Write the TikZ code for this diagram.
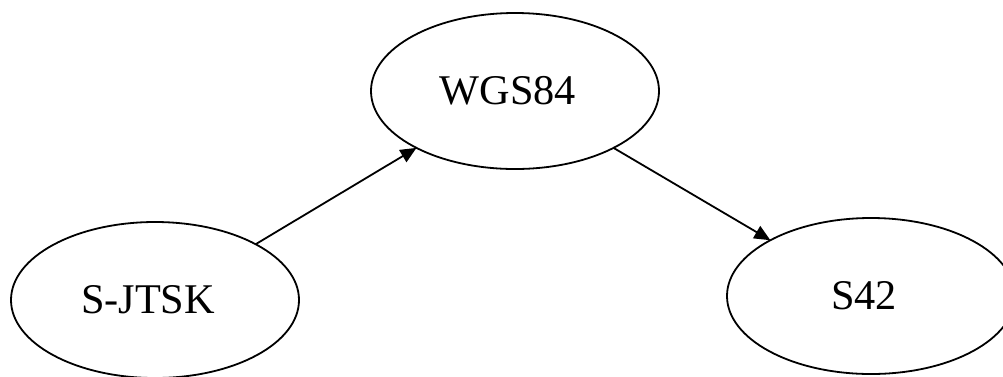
\documentclass[tikz,border=0pt]{standalone}
\usepackage{fontspec}
\setmainfont{Liberation Serif}
\usetikzlibrary{shapes.geometric,arrows.meta}
\begin{document}
\begin{tikzpicture}[x=1pt,y=-1pt,
  crs/.style={ellipse,draw,line width=1.8pt,minimum width=288pt,minimum height=156pt,
    inner sep=0pt,outer sep=0pt,font=\fontsize{42.3pt}{50pt}\selectfont},
  conv/.style={line width=1.8pt,-{Triangle[length=16pt,width=14pt]}}]
  \clip (0,0) rectangle (1003,376);
  \useasboundingbox (0,0) rectangle (1003,376);
  % coordinate reference systems
  \node[crs] (jtsk) at (155,300) {S-JTSK\hspace*{14pt}};
  \node[crs] (wgs) at (515,91) {WGS84\hspace*{14pt}};
  \node[crs] (s42) at (871,296) {S42\hspace*{14pt}};
  % transformations
  \draw[conv] (jtsk.29) -- (wgs.210);
  \draw[conv] (wgs.-30) -- (s42.151);
\end{tikzpicture}
\end{document}
